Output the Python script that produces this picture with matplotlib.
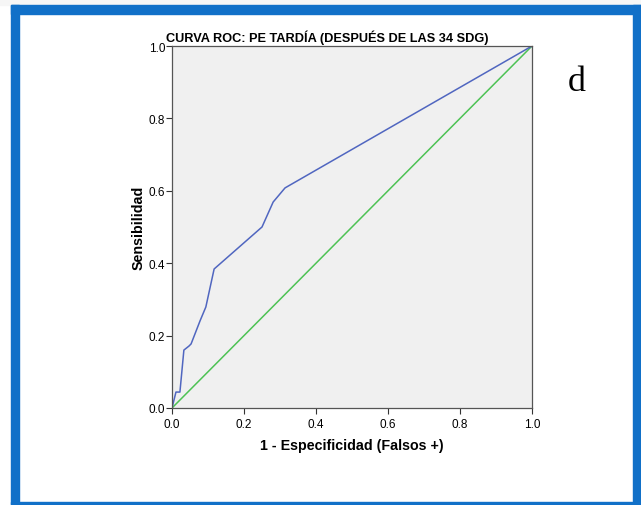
import matplotlib
matplotlib.use("Agg")
import matplotlib.pyplot as plt
from matplotlib.patches import Rectangle

# ROC curve points
fpr = [0.0, 0.011, 0.022, 0.033, 0.047, 0.053, 0.078, 0.094, 0.117, 0.25, 0.281, 0.314, 1.0]
tpr = [0.0, 0.044, 0.044, 0.16, 0.171, 0.177, 0.241, 0.279, 0.384, 0.50, 0.569, 0.608, 1.0]
ref_line = [0.0, 1.0]
ticks = [0.0, 0.2, 0.4, 0.6, 0.8, 1.0]

title = "CURVA ROC: PE TARDÍA (DESPUÉS DE LAS 34 SDG)"
xlabel = "1 - Especificidad (Falsos +)"
ylabel = "Sensibilidad"

plt.rcParams['font.family'] = ['Liberation Sans', 'DejaVu Sans']

fig = plt.figure(figsize=(6.41, 5.06), dpi=100)
W, H = 641, 506

# blue frame around the figure
frame_col = '#1170c8'
fig.patches.append(Rectangle((0, 1 - 6 / H), 1, 6 / H, transform=fig.transFigure,
                             color='#f6f6f6', zorder=0))
for x0, y0, w, h in [(11, 6, 630, 9), (11, 6, 8, 500), (633, 6, 8, 500), (11, 503, 630, 2)]:
    fig.patches.append(Rectangle((x0 / W, 1 - (y0 + h) / H), w / W, h / H,
                                 transform=fig.transFigure, color=frame_col, zorder=1))

ax = fig.add_axes([172 / W, 1 - 409 / H, 360 / W, 362 / H])
ax.set_facecolor('#f0f0f0')

ax.plot(ref_line, ref_line, color='#4dc254', lw=1.1)
ax.plot(fpr, tpr, color='#5066c0', lw=1.1)

ax.set_xlim(0, 1)
ax.set_ylim(0, 1)
ax.set_xticks(ticks)
ax.set_yticks(ticks)
ax.set_xticklabels([f"{t:.1f}" for t in ticks], fontsize=8.5)
ax.set_yticklabels([f"{t:.1f}" for t in ticks], fontsize=8.5)
ax.tick_params(direction='out', length=4, width=0.8, color='#333333')
ax.tick_params(axis='x', pad=3)
ax.tick_params(axis='y', pad=1)
for s in ax.spines.values():
    s.set_color('#555555')
    s.set_linewidth(0.9)

fig.text(327 / W, 1 - 38 / H, title, fontsize=9.2, fontweight='bold',
         ha='center', va='center')
ax.set_xlabel(xlabel, fontsize=10.3, fontweight='bold', labelpad=6)
ax.set_ylabel(ylabel, fontsize=10.3, fontweight='bold', labelpad=2)

fig.text(577 / W, 1 - 83 / H, "d", fontsize=26, family='Liberation Serif',
         ha='center', va='center')

fig.savefig("out.png", dpi=100)
